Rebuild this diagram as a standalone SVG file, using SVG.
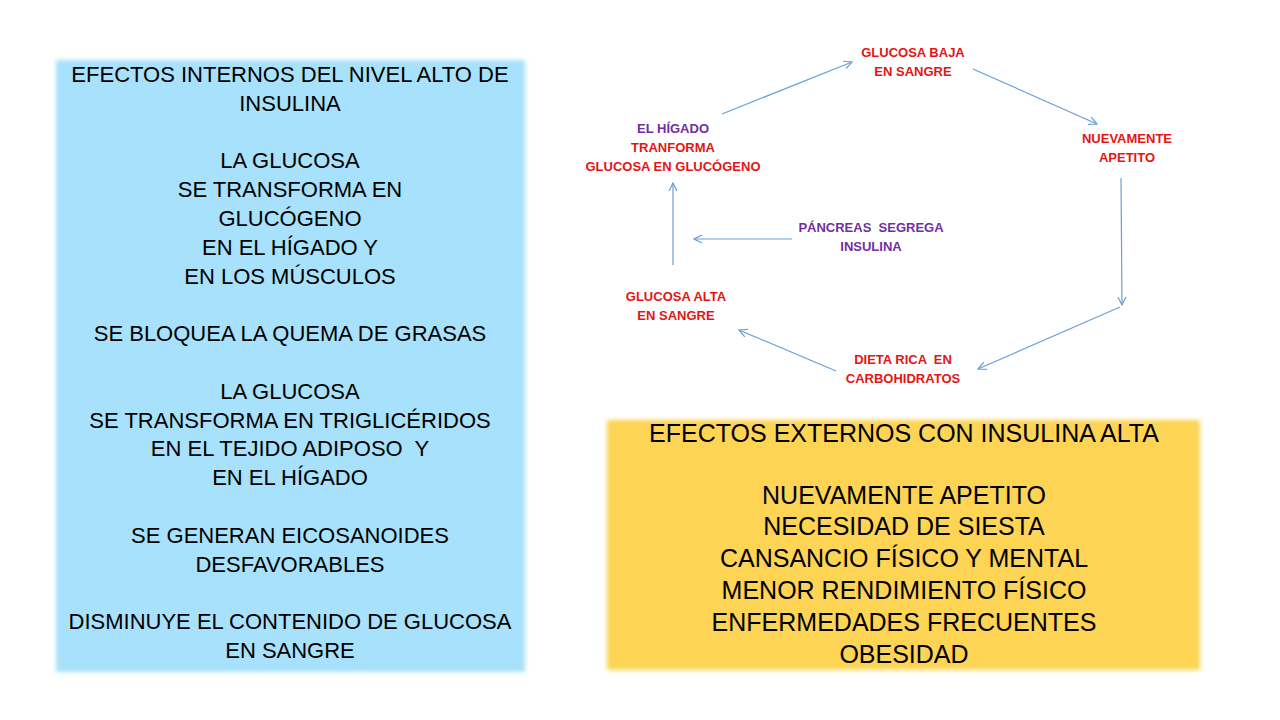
<svg xmlns="http://www.w3.org/2000/svg" width="1280" height="720" viewBox="0 0 1280 720">
<style>
text{white-space:pre}
.big{font-family:"Liberation Sans",Arial,sans-serif;fill:#000;text-anchor:middle}
.l{font-size:22px}
.r{font-size:25px}
.lab{font-family:"Liberation Sans",Arial,sans-serif;font-weight:bold;font-size:13px;text-anchor:middle}
.red{fill:#E31515}
.pur{fill:#7030A0}
.con{stroke:#6A9FD3;stroke-width:1.2;fill:none;marker-end:url(#ah)}
</style>
<defs>
<marker id="ah" viewBox="0 0 10 10" refX="9" refY="5" markerWidth="10" markerHeight="10" markerUnits="userSpaceOnUse" orient="auto">
<path d="M1,1 L9,5 L1,9" fill="none" stroke="#6A9FD3" stroke-width="1.2"/>
</marker>
<filter id="soft" x="-5%" y="-5%" width="110%" height="110%">
<feGaussianBlur stdDeviation="2"/>
</filter>
</defs>
<rect width="1280" height="720" fill="#fff"/>
<g id="internos">
<rect x="56" y="60" width="469" height="612" fill="#A7E1FB" filter="url(#soft)"/>
<text class="big l" x="290" y="82">EFECTOS INTERNOS DEL NIVEL ALTO DE</text>
<text class="big l" x="290" y="111">INSULINA</text>
<text class="big l" x="290" y="168">LA GLUCOSA</text>
<text class="big l" x="290" y="197">SE TRANSFORMA EN</text>
<text class="big l" x="290" y="226">GLUCÓGENO</text>
<text class="big l" x="290" y="255">EN EL HÍGADO Y</text>
<text class="big l" x="290" y="284">EN LOS MÚSCULOS</text>
<text class="big l" x="290" y="341">SE BLOQUEA LA QUEMA DE GRASAS</text>
<text class="big l" x="290" y="399">LA GLUCOSA</text>
<text class="big l" x="290" y="428">SE TRANSFORMA EN TRIGLICÉRIDOS</text>
<text class="big l" x="290" y="456">EN EL TEJIDO ADIPOSO  Y</text>
<text class="big l" x="290" y="485">EN EL HÍGADO</text>
<text class="big l" x="290" y="543">SE GENERAN EICOSANOIDES</text>
<text class="big l" x="290" y="572">DESFAVORABLES</text>
<text class="big l" x="290" y="629">DISMINUYE EL CONTENIDO DE GLUCOSA</text>
<text class="big l" x="290" y="658">EN SANGRE</text>
</g>
<g id="externos">
<rect x="607" y="420" width="593" height="250" fill="#FDD453" filter="url(#soft)"/>
<text class="big r" x="904" y="442">EFECTOS EXTERNOS CON INSULINA ALTA</text>
<text class="big r" x="904" y="504">NUEVAMENTE APETITO</text>
<text class="big r" x="904" y="535">NECESIDAD DE SIESTA</text>
<text class="big r" x="904" y="567">CANSANCIO FÍSICO Y MENTAL</text>
<text class="big r" x="904" y="599">MENOR RENDIMIENTO FÍSICO</text>
<text class="big r" x="904" y="631">ENFERMEDADES FRECUENTES</text>
<text class="big r" x="904" y="663">OBESIDAD</text>
</g>
<g id="glucosa-baja">
<text class="lab red" x="913" y="57">GLUCOSA BAJA</text>
<text class="lab red" x="913" y="76">EN SANGRE</text>
</g>
<g id="nuevamente-apetito">
<text class="lab red" x="1127" y="143">NUEVAMENTE</text>
<text class="lab red" x="1127" y="162">APETITO</text>
</g>
<g id="dieta-rica">
<text class="lab red" x="903" y="364">DIETA RICA  EN</text>
<text class="lab red" x="903" y="383">CARBOHIDRATOS</text>
</g>
<g id="glucosa-alta">
<text class="lab red" x="676" y="301">GLUCOSA ALTA</text>
<text class="lab red" x="676" y="320">EN SANGRE</text>
</g>
<g id="pancreas">
<text class="lab pur" x="871" y="232">PÁNCREAS  SEGREGA</text>
<text class="lab pur" x="871" y="251">INSULINA</text>
</g>
<g id="higado">
<text class="lab pur" x="673" y="133">EL HÍGADO</text>
<text class="lab red" x="673" y="152">TRANFORMA</text>
<text class="lab red" x="673" y="171">GLUCOSA EN GLUCÓGENO</text>
</g>
<g id="connectors">
<line class="con" x1="722" y1="114" x2="852" y2="62"/>
<line class="con" x1="973" y1="69" x2="1097" y2="124"/>
<line class="con" x1="1121" y1="178" x2="1122" y2="305"/>
<line class="con" x1="1120" y1="307" x2="978" y2="369"/>
<line class="con" x1="836" y1="371" x2="739" y2="330"/>
<line class="con" x1="673" y1="265" x2="673" y2="183"/>
<line class="con" x1="792" y1="239" x2="694" y2="239"/>
</g>
</svg>
